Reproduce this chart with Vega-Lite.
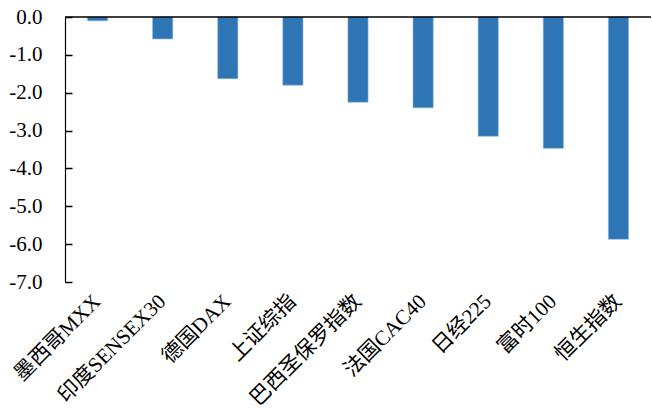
{
  "$schema": "https://vega.github.io/schema/vega-lite/v6.json",
  "width": 586,
  "height": 265,
  "autosize": {"type": "none"},
  "padding": {"left": 65, "top": 17, "right": 1, "bottom": 135},
  "background": "white",
  "config": {
    "view": {"stroke": null},
    "font": "Liberation Serif, Noto Sans CJK SC",
    "axis": {"grid": false, "labelFont": "Liberation Serif, Noto Sans CJK SC", "labelColor": "black"},
    "axisY": {
      "labelOverlap": false,
      "labelFontSize": 21,
      "labelPadding": 30,
      "tickSize": -7,
      "tickWidth": 1.5,
      "tickColor": "black",
      "domainColor": "black",
      "domainWidth": 1.2
    }
  },
  "data": {
    "values": [
      {"index": "墨西哥MXX", "change": -0.1},
      {"index": "印度SENSEX30", "change": -0.58},
      {"index": "德国DAX", "change": -1.63},
      {"index": "上证综指", "change": -1.8},
      {"index": "巴西圣保罗指数", "change": -2.25},
      {"index": "法国CAC40", "change": -2.4},
      {"index": "日经225", "change": -3.15},
      {"index": "富时100", "change": -3.47},
      {"index": "恒生指数", "change": -5.87}
    ]
  },
  "layer": [
    {
      "mark": {"type": "bar", "color": "#2E75B6", "stroke": "#8FB4DA", "strokeWidth": 0.6},
      "encoding": {
        "x": {
          "field": "index",
          "type": "nominal",
          "sort": null,
          "title": null,
          "scale": {"paddingInner": 0.69, "paddingOuter": 0.345},
          "axis": {
            "domain": false,
            "ticks": false,
            "labelAngle": -45,
            "labelAlign": "right",
            "labelBaseline": "middle",
            "labelPadding": 16,
            "labelFontSize": 21,
            "labelLimit": 300
          }
        },
        "y": {
          "field": "change",
          "type": "quantitative",
          "title": null,
          "scale": {"domain": [-7, 0], "nice": false},
          "axis": {
            "values": [0, -1, -2, -3, -4, -5, -6, -7],
            "labelExpr": "(datum.value < 0 ? '-' : '') + format(abs(datum.value), '.1f')"
          }
        }
      }
    },
    {
      "data": {"values": [{"base": 0}]},
      "mark": {"type": "rule", "color": "black", "strokeWidth": 1.5},
      "encoding": {
        "y": {
          "field": "base",
          "type": "quantitative",
          "title": null,
          "axis": {
            "values": [0, -1, -2, -3, -4, -5, -6, -7],
            "labelExpr": "(datum.value < 0 ? '-' : '') + format(abs(datum.value), '.1f')"
          }
        }
      }
    }
  ]
}
